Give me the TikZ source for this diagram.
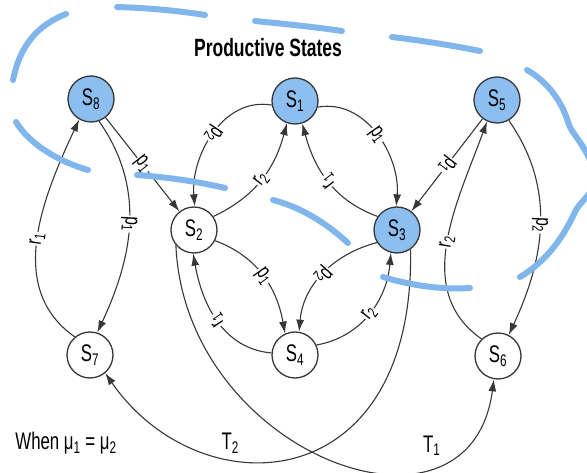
\documentclass[tikz,border=0pt]{standalone}
\usepackage{fontspec}
\setmainfont{Liberation Sans}[FakeStretch=0.7]
\usetikzlibrary{arrows.meta}
\definecolor{stateblue}{RGB}{140,190,240}
\definecolor{markblue}{RGB}{128,182,236}
\definecolor{wiregray}{RGB}{55,55,55}

\begin{document}
\begin{tikzpicture}[x=1pt,y=1pt,state/.style={circle,draw=wiregray,line width=1.3pt,minimum size=46pt,inner sep=0pt,fill=white,font=\fontsize{24}{24}\selectfont},productive/.style={state,fill=stateblue},wire/.style={draw=wiregray,line width=1.1pt,-{Latex[length=12pt,width=8pt]}},rate/.style={pos=0.5,sloped,allow upside down,fill=white,inner sep=1pt,font=\fontsize{22}{22}\selectfont},tlabel/.style={font=\fontsize{24}{24}\selectfont,inner sep=1pt},boundary/.style={draw=markblue,line width=6pt,line cap=round}]
  \clip (0,0) rectangle (587,-473);
  \node[font=\bfseries\fontsize{25}{25}\selectfont] (title) at (268,-48) {Productive States};
  \node[font=\fontsize{24}{24}\selectfont] (cond) at (66,-443) {When μ\textsubscript{1} = μ\textsubscript{2}};
  % states
  \node[productive] (s8) at (91,-99) {S\textsubscript{8}};
  \node[productive] (s1) at (295,-101) {S\textsubscript{1}};
  \node[productive] (s5) at (497,-100) {S\textsubscript{5}};
  \node[state] (s2) at (194,-230) {S\textsubscript{2}};
  \node[productive] (s3) at (397,-230) {S\textsubscript{3}};
  \node[state] (s7) at (90,-355) {S\textsubscript{7}};
  \node[state] (s4) at (295,-355) {S\textsubscript{4}};
  \node[state] (s6) at (498,-356) {S\textsubscript{6}};
  % left pair
  \path[wire] (s7.130) to[out=145,in=-115] node[rate] {r\textsubscript{1}} (s8.-120);
  \path[wire] (s8.-70) to[out=-55,in=65] node[rate] {p\textsubscript{1}} (s7.72);
  \path[wire] (s8) -- node[rate] {p\textsubscript{1}} (s2);
  % centre
  \path[wire] (s1.190) to[out=170,in=95] node[rate] {p\textsubscript{2}} (s2.88);
  \path[wire] (s2.35) to[out=25,in=-105] node[rate] {r\textsubscript{2}} (s1.-110);
  \path[wire] (s1.-15) to[out=10,in=85] node[rate] {p\textsubscript{1}} (s3.92);
  \path[wire] (s3.145) to[out=160,in=-75] node[rate] {r\textsubscript{1}} (s1.-72);
  \path[wire] (s2.-27) to[out=-20,in=100] node[rate] {p\textsubscript{1}} (s4.115);
  \path[wire] (s4.175) to[out=175,in=-80] node[rate] {r\textsubscript{1}} (s2.-92);
  \path[wire] (s3.212) to[out=195,in=85] node[rate] {p\textsubscript{2}} (s4.80);
  \path[wire] (s4.25) to[out=10,in=-95] node[rate] {r\textsubscript{2}} (s3.-105);
  % right pair
  \path[wire] (s5) -- node[rate] {p\textsubscript{1}} (s3);
  \path[wire] (s5.-60) to[out=-55,in=65] node[rate] {p\textsubscript{2}} (s6.63);
  \path[wire] (s6.134) to[out=145,in=-110] node[rate] {r\textsubscript{2}} (s5.-115);
  % long transitions
  \path[wire] (s3.-55) .. controls (415,-500) and (200,-510) .. node[tlabel,pos=0.66,above=3pt] {T\textsubscript{2}} (s7.-50);
  \path[wire] (s2.-140) .. controls (185,-455) and (470,-560) .. node[tlabel,pos=0.74,above=8pt] {T\textsubscript{1}} (s6.-100);
  % productive states border
  \draw[boundary] (13,-80) .. controls (20,-45) and (38,-25) .. (66,-14);
  \draw[boundary] (117,-7) .. controls (150,-8) and (180,-11) .. (205,-15);
  \draw[boundary] (255,-21) .. controls (285,-24) and (315,-27) .. (342,-31);
  \draw[boundary] (392,-37) .. controls (425,-41) and (455,-46) .. (480,-51);
  \draw[boundary] (527,-70) .. controls (548,-82) and (562,-102) .. (568,-122) .. controls (572,-135) and (582,-140) .. (592,-165);
  \draw[boundary] (592,-190) .. controls (585,-200) and (578,-205) .. (575,-212) .. controls (562,-240) and (545,-262) .. (520,-277);
  \draw[boundary] (470,-288) .. controls (440,-290) and (410,-285) .. (383,-277);
  \draw[boundary] (348,-243) .. controls (325,-222) and (300,-207) .. (273,-200);
  \draw[boundary] (225,-188) .. controls (195,-181) and (165,-177) .. (137,-175);
  \draw[boundary] (88,-170) .. controls (60,-162) and (30,-145) .. (16,-122);
\end{tikzpicture}
\end{document}
